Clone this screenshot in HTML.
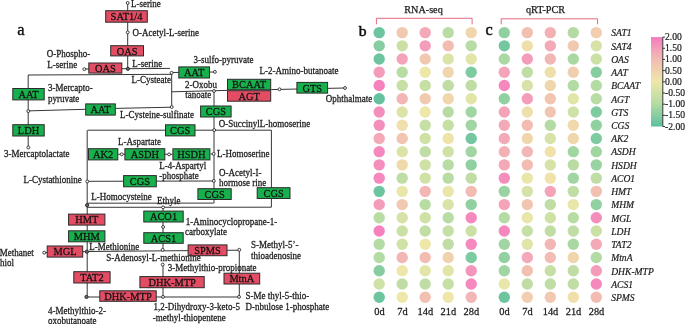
<!DOCTYPE html>
<html><head><meta charset="utf-8"><title>Sulfur amino acid metabolism</title>
<style>
html,body{margin:0;padding:0;background:#fff;}
body{width:685px;height:324px;overflow:hidden;}
svg{display:block;}
text{font-family:"Liberation Serif","Times New Roman",serif;}
</style></head>
<body>
<svg width="685" height="324" viewBox="0 0 685 324">
<rect width="685" height="324" fill="#ffffff"/>
<defs>
<linearGradient id="cb" x1="0" y1="0" x2="0" y2="1">
<stop offset="0.0%" stop-color="#f57abe"/>
<stop offset="12.5%" stop-color="#f49dba"/>
<stop offset="25.0%" stop-color="#f2bcb2"/>
<stop offset="37.5%" stop-color="#f1d2ae"/>
<stop offset="50.0%" stop-color="#eee7a9"/>
<stop offset="75.0%" stop-color="#b3dba3"/>
<stop offset="100.0%" stop-color="#5bbf9f"/>
</linearGradient>
</defs>
<!-- panel a: pathway -->
<g stroke="#2b2b2b" stroke-width="0.95" fill="none">
<line x1="127.7" y1="3" x2="127.7" y2="68.8"/>
<line x1="84.3" y1="69.0" x2="170.0" y2="68.4"/>
<line x1="28.1" y1="75.0" x2="171.6" y2="74.3"/>
<line x1="28.2" y1="75.0" x2="28.2" y2="147.5"/>
<line x1="28.3" y1="110.9" x2="85.2" y2="109.3"/>
<line x1="115.8" y1="108.4" x2="171.7" y2="107.2"/>
<line x1="171.7" y1="72.7" x2="171.7" y2="107.2"/>
<line x1="171.7" y1="72.5" x2="214.9" y2="72.0"/>
<line x1="171.7" y1="91.8" x2="227.0" y2="90.4"/>
<line x1="271.2" y1="89.6" x2="345.0" y2="88.0"/>
<line x1="214.0" y1="91.0" x2="214.0" y2="203.1"/>
<line x1="87.6" y1="130.2" x2="271.4" y2="130.2"/>
<line x1="271.4" y1="130.2" x2="271.4" y2="207.2"/>
<line x1="87.2" y1="130.2" x2="87.2" y2="297.0"/>
<line x1="118.3" y1="154.3" x2="172.4" y2="154.3"/>
<line x1="210.4" y1="154.0" x2="214.0" y2="154.0"/>
<line x1="87.3" y1="181.3" x2="213.8" y2="181.0"/>
<line x1="87.0" y1="203.2" x2="213.8" y2="203.1"/>
<line x1="87.0" y1="207.3" x2="271.4" y2="207.2"/>
<line x1="163.0" y1="207.3" x2="163.0" y2="249.8"/>
<line x1="86.9" y1="251.5" x2="239.3" y2="250.2"/>
<line x1="239.3" y1="249.8" x2="239.3" y2="297.0"/>
<line x1="163.0" y1="264.6" x2="163.0" y2="297.0"/>
<line x1="86.5" y1="297.0" x2="239.0" y2="297.0"/>
<line x1="44.2" y1="252.6" x2="86.9" y2="251.6"/>
</g>
<g stroke="#2b2b2b" stroke-width="1">
<rect x="105.7" y="10.7" width="41.6" height="11.5" fill="#e24d64"/>
<rect x="110.7" y="45.7" width="32.8" height="10.2" fill="#e24d64"/>
<rect x="88.8" y="63.0" width="33.0" height="10.1" fill="#e24d64"/>
<rect x="178.8" y="66.9" width="30.7" height="11.1" fill="#17b04c"/>
<rect x="227.5" y="79.3" width="43.2" height="10.4" fill="#17b04c"/>
<rect x="227.5" y="90.7" width="43.2" height="10.5" fill="#e24d64"/>
<rect x="296.9" y="82.4" width="30.7" height="10.7" fill="#17b04c"/>
<rect x="12.8" y="88.5" width="31.4" height="11.4" fill="#17b04c"/>
<rect x="85.7" y="103.9" width="29.6" height="11.2" fill="#17b04c"/>
<rect x="200.6" y="106.0" width="30.5" height="11.0" fill="#17b04c"/>
<rect x="12.8" y="124.7" width="31.4" height="11.3" fill="#17b04c"/>
<rect x="165.5" y="124.8" width="29.5" height="11.1" fill="#17b04c"/>
<rect x="88.5" y="148.7" width="29.3" height="11.2" fill="#17b04c"/>
<rect x="124.9" y="148.7" width="39.9" height="11.2" fill="#17b04c"/>
<rect x="172.9" y="148.8" width="37.0" height="11.1" fill="#17b04c"/>
<rect x="123.6" y="175.6" width="32.7" height="11.2" fill="#17b04c"/>
<rect x="197.9" y="188.7" width="33.3" height="10.8" fill="#17b04c"/>
<rect x="257.2" y="187.7" width="32.8" height="10.8" fill="#17b04c"/>
<rect x="143.8" y="211.1" width="39.4" height="10.9" fill="#17b04c"/>
<rect x="68.6" y="214.1" width="36.3" height="11.0" fill="#e24d64"/>
<rect x="68.6" y="230.8" width="36.3" height="11.0" fill="#17b04c"/>
<rect x="143.8" y="232.7" width="39.4" height="10.6" fill="#17b04c"/>
<rect x="188.1" y="244.9" width="38.9" height="10.8" fill="#e24d64"/>
<rect x="47.2" y="246.0" width="35.5" height="11.1" fill="#e24d64"/>
<rect x="73.8" y="271.7" width="36.3" height="11.3" fill="#e24d64"/>
<rect x="224.0" y="273.2" width="35.7" height="10.8" fill="#e24d64"/>
<rect x="139.9" y="276.6" width="64.3" height="11.1" fill="#e24d64"/>
<rect x="99.8" y="290.8" width="56.4" height="10.5" fill="#e24d64"/>
</g>
<g fill="#ffffff" stroke="#2b2b2b" stroke-width="0.9">
<circle cx="127.7" cy="3.0" r="1.45"/>
<circle cx="127.7" cy="32.4" r="1.45"/>
<circle cx="84.3" cy="69.2" r="1.45"/>
<circle cx="171.6" cy="72.8" r="1.45"/>
<circle cx="214.9" cy="71.9" r="1.45"/>
<circle cx="214.0" cy="91.0" r="1.45"/>
<circle cx="279.5" cy="89.3" r="1.45"/>
<circle cx="345.0" cy="88.0" r="1.45"/>
<circle cx="28.3" cy="111.1" r="1.45"/>
<circle cx="28.3" cy="147.5" r="1.45"/>
<circle cx="171.7" cy="107.0" r="1.45"/>
<circle cx="214.2" cy="130.1" r="1.45"/>
<circle cx="121.7" cy="154.3" r="1.45"/>
<circle cx="169.1" cy="154.4" r="1.45"/>
<circle cx="213.7" cy="153.8" r="1.45"/>
<circle cx="87.3" cy="181.5" r="1.45"/>
<circle cx="213.8" cy="180.9" r="1.45"/>
<circle cx="163.1" cy="207.3" r="1.45"/>
<circle cx="163.1" cy="227.0" r="1.45"/>
<circle cx="162.7" cy="249.8" r="1.45"/>
<circle cx="239.3" cy="249.8" r="1.45"/>
<circle cx="162.7" cy="264.6" r="1.45"/>
<circle cx="44.2" cy="252.7" r="1.45"/>
<circle cx="163.0" cy="296.9" r="1.45"/>
<circle cx="239.0" cy="296.9" r="1.45"/>
</g>
<g fill="#6a6a6a" stroke="#2b2b2b" stroke-width="1">
<circle cx="127.9" cy="68.8" r="1.6"/>
<circle cx="87.1" cy="205.2" r="1.6"/>
<circle cx="86.9" cy="251.7" r="1.6"/>
<circle cx="86.5" cy="296.9" r="1.6"/>
</g>
<g font-size="10.4" fill="#111" stroke="#111" stroke-width="0.25" text-anchor="middle">
<text transform="translate(126.5 20.1) scale(1 1.05)">SAT1/4</text>
<text transform="translate(127.1 54.5) scale(1 1.05)">OAS</text>
<text transform="translate(105.3 71.8) scale(1 1.05)">OAS</text>
<text transform="translate(194.2 76.2) scale(1 1.05)">AAT</text>
<text transform="translate(249.1 88.2) scale(1 1.05)">BCAAT</text>
<text transform="translate(249.1 99.7) scale(1 1.05)">AGT</text>
<text transform="translate(312.2 91.5) scale(1 1.05)">GTS</text>
<text transform="translate(28.5 97.9) scale(1 1.05)">AAT</text>
<text transform="translate(100.5 113.2) scale(1 1.05)">AAT</text>
<text transform="translate(215.8 115.2) scale(1 1.05)">CGS</text>
<text transform="translate(28.5 134.0) scale(1 1.05)">LDH</text>
<text transform="translate(180.2 134.0) scale(1 1.05)">CGS</text>
<text transform="translate(103.2 158.0) scale(1 1.05)">AK2</text>
<text transform="translate(144.9 158.0) scale(1 1.05)">ASDH</text>
<text transform="translate(191.4 158.1) scale(1 1.05)">HSDH</text>
<text transform="translate(139.9 184.9) scale(1 1.05)">CGS</text>
<text transform="translate(214.6 197.8) scale(1 1.05)">CGS</text>
<text transform="translate(273.6 196.8) scale(1 1.05)">CGS</text>
<text transform="translate(163.5 220.2) scale(1 1.05)">ACO1</text>
<text transform="translate(86.8 223.3) scale(1 1.05)">HMT</text>
<text transform="translate(86.8 240.0) scale(1 1.05)">MHM</text>
<text transform="translate(163.5 241.7) scale(1 1.05)">ACS1</text>
<text transform="translate(207.6 254.0) scale(1 1.05)">SPMS</text>
<text transform="translate(65.0 255.2) scale(1 1.05)">MGL</text>
<text transform="translate(91.9 281.1) scale(1 1.05)">TAT2</text>
<text transform="translate(241.8 282.3) scale(1 1.05)">MtnA</text>
<text transform="translate(172.1 285.8) scale(1 1.05)">DHK-MTP</text>
<text transform="translate(128.0 299.8) scale(1 1.05)">DHK-MTP</text>
</g>
<g font-size="9" fill="#1c1c1c" stroke="#1c1c1c" stroke-width="0.25">
<text transform="translate(130.9 7.10) scale(1 1.08)">L-serine</text>
<text transform="translate(132.5 35.60) scale(1 1.08)">O-Acetyl-L-serine</text>
<text transform="translate(46.8 56.70) scale(1 1.08)">O-Phospho-</text>
<text transform="translate(47.3 67.50) scale(1 1.08)">L-serine</text>
<text transform="translate(132.2 66.80) scale(1 1.08)">L-serine</text>
<text transform="translate(131.5 83.30) scale(1 1.08)">L-Cysteate</text>
<text transform="translate(193.5 63.10) scale(1 1.08)">3-sulfo-pyruvate</text>
<text transform="translate(185.0 87.80) scale(1 1.08)">2-Oxobu</text>
<text transform="translate(185.2 98.10) scale(1 1.08)">tanoate</text>
<text transform="translate(259.5 74.10) scale(1 1.08)">L-2-Amino-butanoate</text>
<text transform="translate(325.7 102.20) scale(1 1.08)">Ophthalmate</text>
<text transform="translate(47.9 91.40) scale(1 1.08)">3-Mercapto-</text>
<text transform="translate(47.9 101.50) scale(1 1.08)">pyruvate</text>
<text transform="translate(120.1 117.50) scale(1 1.08)">L-Cysteine-sulfinate</text>
<text transform="translate(4.1 156.90) scale(1 1.08)">3-Mercaptolactate</text>
<text transform="translate(218.8 127.00) scale(1 1.08)">O-SuccinylL-homoserine</text>
<text transform="translate(118.0 145.00) scale(1 1.08)">L-Aspartate</text>
<text transform="translate(217.0 157.40) scale(1 1.08)">L-Homoserine</text>
<text transform="translate(159.3 168.50) scale(1 1.08)">L-4-Aspartyl</text>
<text transform="translate(159.3 179.00) scale(1 1.08)">-phosphate</text>
<text transform="translate(219.1 175.50) scale(1 1.08)">O-Acetyl-I-</text>
<text transform="translate(219.1 186.20) scale(1 1.08)">hormose rine</text>
<text transform="translate(23.4 182.90) scale(1 1.08)">L-Cystathionine</text>
<text transform="translate(91.3 200.20) scale(1 1.08)">L-Homocysteine</text>
<text transform="translate(157.0 203.50) scale(1 1.08)">Ethyle</text>
<text transform="translate(185.8 224.80) scale(1 1.08)">1-Aminocyclopropane-1-</text>
<text transform="translate(185.0 235.40) scale(1 1.08)">carboxylate</text>
<text transform="translate(-0.2 255.60) scale(1 1.08)">Methanet</text>
<text transform="translate(0.0 266.40) scale(1 1.08)">hiol</text>
<text transform="translate(89.3 250.10) scale(1 1.08)">L-Methionine</text>
<text transform="translate(106.3 260.80) scale(1 1.08)">S-Adenosyl-L-methionine</text>
<text transform="translate(251.0 247.90) scale(1 1.08)">S-Methyl-5’-</text>
<text transform="translate(251.0 259.00) scale(1 1.08)">thioadenosine</text>
<text transform="translate(167.7 270.90) scale(1 1.08)">3-Methylthio-propionate</text>
<text transform="translate(245.6 298.90) scale(1 1.08)">S-Me thyl-5-thio-</text>
<text transform="translate(245.6 309.80) scale(1 1.08)">D-nbulose 1-phosphate</text>
<text transform="translate(48.0 313.90) scale(1 1.08)">4-Methylthio-2-</text>
<text transform="translate(48.0 323.50) scale(1 1.08)">oxobutanoate</text>
<text transform="translate(153.4 310.20) scale(1 1.08)">1,2-Dihydroxy-3-keto-5</text>
<text transform="translate(152.8 321.20) scale(1 1.08)">-methyl-thiopentene</text>
</g>
<text x="17.2" y="35.2" font-size="16.6" fill="#111" stroke="#111" stroke-width="0.35">a</text>
<!-- panels b and c: heatmaps -->
<text x="358.7" y="35.5" font-size="15.6" fill="#111" stroke="#111" stroke-width="0.55">b</text>
<text x="485.5" y="35.0" font-size="16.2" fill="#111" stroke="#111" stroke-width="0.5">c</text>
<g font-size="10.2" fill="#1c1c1c" stroke="#1c1c1c" stroke-width="0.25" text-anchor="middle">
<text x="423.5" y="13.2">RNA-seq</text>
<text x="545.5" y="13.3">qRT-PCR</text>
</g>
<g stroke="#e3697c" stroke-width="1" fill="none">
<polyline points="376.4,24.3 376.4,18.3 472.1,18.3 472.1,24.3"/>
<polyline points="501.2,24.3 501.2,18.8 597.6,18.8 597.6,24.3"/>
</g>
<g>
<circle cx="379.2" cy="32.60" r="5.7" fill="#6dc5a0"/>
<circle cx="504.3" cy="32.60" r="5.7" fill="#90d0a1"/>
<circle cx="402.2" cy="32.60" r="5.7" fill="#f1c9b0"/>
<circle cx="527.3" cy="32.60" r="5.7" fill="#f2c0b1"/>
<circle cx="425.2" cy="32.60" r="5.7" fill="#f3a9b7"/>
<circle cx="550.3" cy="32.60" r="5.7" fill="#f3b0b5"/>
<circle cx="448.2" cy="32.60" r="5.7" fill="#b9dca4"/>
<circle cx="573.3" cy="32.60" r="5.7" fill="#b3dba3"/>
<circle cx="471.2" cy="32.60" r="5.7" fill="#f0d6ad"/>
<circle cx="596.3" cy="32.60" r="5.7" fill="#f1ceaf"/>
<circle cx="379.2" cy="45.83" r="5.7" fill="#87cda1"/>
<circle cx="504.3" cy="45.83" r="5.7" fill="#75c7a0"/>
<circle cx="402.2" cy="45.83" r="5.7" fill="#cbe0a5"/>
<circle cx="527.3" cy="45.83" r="5.7" fill="#efdfab"/>
<circle cx="425.2" cy="45.83" r="5.7" fill="#f49dba"/>
<circle cx="550.3" cy="45.83" r="5.7" fill="#f3a9b7"/>
<circle cx="448.2" cy="45.83" r="5.7" fill="#f2bcb2"/>
<circle cx="573.3" cy="45.83" r="5.7" fill="#f1c9b0"/>
<circle cx="471.2" cy="45.83" r="5.7" fill="#b9dca4"/>
<circle cx="596.3" cy="45.83" r="5.7" fill="#d6e2a7"/>
<circle cx="379.2" cy="59.06" r="5.7" fill="#6dc5a0"/>
<circle cx="504.3" cy="59.06" r="5.7" fill="#aad8a3"/>
<circle cx="402.2" cy="59.06" r="5.7" fill="#f4a3b8"/>
<circle cx="527.3" cy="59.06" r="5.7" fill="#f49dba"/>
<circle cx="425.2" cy="59.06" r="5.7" fill="#f1c9b0"/>
<circle cx="550.3" cy="59.06" r="5.7" fill="#f2b6b4"/>
<circle cx="448.2" cy="59.06" r="5.7" fill="#dce3a7"/>
<circle cx="573.3" cy="59.06" r="5.7" fill="#aad8a3"/>
<circle cx="471.2" cy="59.06" r="5.7" fill="#e2e5a8"/>
<circle cx="596.3" cy="59.06" r="5.7" fill="#cbe0a5"/>
<circle cx="379.2" cy="72.29" r="5.7" fill="#f49dba"/>
<circle cx="504.3" cy="72.29" r="5.7" fill="#f4a3b8"/>
<circle cx="402.2" cy="72.29" r="5.7" fill="#b9dca4"/>
<circle cx="527.3" cy="72.29" r="5.7" fill="#bfdda4"/>
<circle cx="425.2" cy="72.29" r="5.7" fill="#eee7a9"/>
<circle cx="550.3" cy="72.29" r="5.7" fill="#efdfab"/>
<circle cx="448.2" cy="72.29" r="5.7" fill="#f0d6ad"/>
<circle cx="573.3" cy="72.29" r="5.7" fill="#f1ceaf"/>
<circle cx="471.2" cy="72.29" r="5.7" fill="#7ecaa1"/>
<circle cx="596.3" cy="72.29" r="5.7" fill="#87cda1"/>
<circle cx="379.2" cy="85.52" r="5.7" fill="#f581bd"/>
<circle cx="504.3" cy="85.52" r="5.7" fill="#f588bc"/>
<circle cx="402.2" cy="85.52" r="5.7" fill="#c5dfa5"/>
<circle cx="527.3" cy="85.52" r="5.7" fill="#d6e2a7"/>
<circle cx="425.2" cy="85.52" r="5.7" fill="#c5dfa5"/>
<circle cx="550.3" cy="85.52" r="5.7" fill="#f0d6ad"/>
<circle cx="448.2" cy="85.52" r="5.7" fill="#bfdda4"/>
<circle cx="573.3" cy="85.52" r="5.7" fill="#b3dba3"/>
<circle cx="471.2" cy="85.52" r="5.7" fill="#bfdda4"/>
<circle cx="596.3" cy="85.52" r="5.7" fill="#b3dba3"/>
<circle cx="379.2" cy="98.75" r="5.7" fill="#64c29f"/>
<circle cx="504.3" cy="98.75" r="5.7" fill="#90d0a1"/>
<circle cx="402.2" cy="98.75" r="5.7" fill="#f2b6b4"/>
<circle cx="527.3" cy="98.75" r="5.7" fill="#f49dba"/>
<circle cx="425.2" cy="98.75" r="5.7" fill="#f1c9b0"/>
<circle cx="550.3" cy="98.75" r="5.7" fill="#f2c5b0"/>
<circle cx="448.2" cy="98.75" r="5.7" fill="#f0d6ad"/>
<circle cx="573.3" cy="98.75" r="5.7" fill="#e2e5a8"/>
<circle cx="471.2" cy="98.75" r="5.7" fill="#e2e5a8"/>
<circle cx="596.3" cy="98.75" r="5.7" fill="#b9dca4"/>
<circle cx="379.2" cy="111.98" r="5.7" fill="#f48fbc"/>
<circle cx="504.3" cy="111.98" r="5.7" fill="#f4a3b8"/>
<circle cx="402.2" cy="111.98" r="5.7" fill="#dce3a7"/>
<circle cx="527.3" cy="111.98" r="5.7" fill="#efdfab"/>
<circle cx="425.2" cy="111.98" r="5.7" fill="#eee7a9"/>
<circle cx="550.3" cy="111.98" r="5.7" fill="#f2c5b0"/>
<circle cx="448.2" cy="111.98" r="5.7" fill="#b9dca4"/>
<circle cx="573.3" cy="111.98" r="5.7" fill="#d0e1a6"/>
<circle cx="471.2" cy="111.98" r="5.7" fill="#a1d5a2"/>
<circle cx="596.3" cy="111.98" r="5.7" fill="#7ecaa1"/>
<circle cx="379.2" cy="125.21" r="5.7" fill="#f48fbc"/>
<circle cx="504.3" cy="125.21" r="5.7" fill="#f3a9b7"/>
<circle cx="402.2" cy="125.21" r="5.7" fill="#efdfab"/>
<circle cx="527.3" cy="125.21" r="5.7" fill="#f2bcb2"/>
<circle cx="425.2" cy="125.21" r="5.7" fill="#c5dfa5"/>
<circle cx="550.3" cy="125.21" r="5.7" fill="#b3dba3"/>
<circle cx="448.2" cy="125.21" r="5.7" fill="#c5dfa5"/>
<circle cx="573.3" cy="125.21" r="5.7" fill="#f0daac"/>
<circle cx="471.2" cy="125.21" r="5.7" fill="#a1d5a2"/>
<circle cx="596.3" cy="125.21" r="5.7" fill="#90d0a1"/>
<circle cx="379.2" cy="138.44" r="5.7" fill="#f3a9b7"/>
<circle cx="504.3" cy="138.44" r="5.7" fill="#f3a9b7"/>
<circle cx="402.2" cy="138.44" r="5.7" fill="#f2c5b0"/>
<circle cx="527.3" cy="138.44" r="5.7" fill="#f0d6ad"/>
<circle cx="425.2" cy="138.44" r="5.7" fill="#d0e1a6"/>
<circle cx="550.3" cy="138.44" r="5.7" fill="#d6e2a7"/>
<circle cx="448.2" cy="138.44" r="5.7" fill="#efe3aa"/>
<circle cx="573.3" cy="138.44" r="5.7" fill="#f0d6ad"/>
<circle cx="471.2" cy="138.44" r="5.7" fill="#75c7a0"/>
<circle cx="596.3" cy="138.44" r="5.7" fill="#7ecaa1"/>
<circle cx="379.2" cy="151.67" r="5.7" fill="#f588bc"/>
<circle cx="504.3" cy="151.67" r="5.7" fill="#f3b0b5"/>
<circle cx="402.2" cy="151.67" r="5.7" fill="#dce3a7"/>
<circle cx="527.3" cy="151.67" r="5.7" fill="#f2b6b4"/>
<circle cx="425.2" cy="151.67" r="5.7" fill="#bfdda4"/>
<circle cx="550.3" cy="151.67" r="5.7" fill="#efe3aa"/>
<circle cx="448.2" cy="151.67" r="5.7" fill="#d0e1a6"/>
<circle cx="573.3" cy="151.67" r="5.7" fill="#a1d5a2"/>
<circle cx="471.2" cy="151.67" r="5.7" fill="#a1d5a2"/>
<circle cx="596.3" cy="151.67" r="5.7" fill="#a1d5a2"/>
<circle cx="379.2" cy="164.90" r="5.7" fill="#f48fbc"/>
<circle cx="504.3" cy="164.90" r="5.7" fill="#f3a9b7"/>
<circle cx="402.2" cy="164.90" r="5.7" fill="#f0daac"/>
<circle cx="527.3" cy="164.90" r="5.7" fill="#f2bcb2"/>
<circle cx="425.2" cy="164.90" r="5.7" fill="#d0e1a6"/>
<circle cx="550.3" cy="164.90" r="5.7" fill="#d6e2a7"/>
<circle cx="448.2" cy="164.90" r="5.7" fill="#b9dca4"/>
<circle cx="573.3" cy="164.90" r="5.7" fill="#b9dca4"/>
<circle cx="471.2" cy="164.90" r="5.7" fill="#90d0a1"/>
<circle cx="596.3" cy="164.90" r="5.7" fill="#99d3a2"/>
<circle cx="379.2" cy="178.13" r="5.7" fill="#f588bc"/>
<circle cx="504.3" cy="178.13" r="5.7" fill="#f48fbc"/>
<circle cx="402.2" cy="178.13" r="5.7" fill="#bfdda4"/>
<circle cx="527.3" cy="178.13" r="5.7" fill="#e8e6a8"/>
<circle cx="425.2" cy="178.13" r="5.7" fill="#d0e1a6"/>
<circle cx="550.3" cy="178.13" r="5.7" fill="#efe3aa"/>
<circle cx="448.2" cy="178.13" r="5.7" fill="#b9dca4"/>
<circle cx="573.3" cy="178.13" r="5.7" fill="#a1d5a2"/>
<circle cx="471.2" cy="178.13" r="5.7" fill="#bfdda4"/>
<circle cx="596.3" cy="178.13" r="5.7" fill="#bfdda4"/>
<circle cx="379.2" cy="191.36" r="5.7" fill="#6dc5a0"/>
<circle cx="504.3" cy="191.36" r="5.7" fill="#99d3a2"/>
<circle cx="402.2" cy="191.36" r="5.7" fill="#e8e6a8"/>
<circle cx="527.3" cy="191.36" r="5.7" fill="#d6e2a7"/>
<circle cx="425.2" cy="191.36" r="5.7" fill="#f2b6b4"/>
<circle cx="550.3" cy="191.36" r="5.7" fill="#f4a3b8"/>
<circle cx="448.2" cy="191.36" r="5.7" fill="#e8e6a8"/>
<circle cx="573.3" cy="191.36" r="5.7" fill="#bfdda4"/>
<circle cx="471.2" cy="191.36" r="5.7" fill="#f2bcb2"/>
<circle cx="596.3" cy="191.36" r="5.7" fill="#f2c0b1"/>
<circle cx="379.2" cy="204.59" r="5.7" fill="#f49dba"/>
<circle cx="504.3" cy="204.59" r="5.7" fill="#f4a3b8"/>
<circle cx="402.2" cy="204.59" r="5.7" fill="#f1c9b0"/>
<circle cx="527.3" cy="204.59" r="5.7" fill="#f2c5b0"/>
<circle cx="425.2" cy="204.59" r="5.7" fill="#b9dca4"/>
<circle cx="550.3" cy="204.59" r="5.7" fill="#bfdda4"/>
<circle cx="448.2" cy="204.59" r="5.7" fill="#dce3a7"/>
<circle cx="573.3" cy="204.59" r="5.7" fill="#e8e6a8"/>
<circle cx="471.2" cy="204.59" r="5.7" fill="#90d0a1"/>
<circle cx="596.3" cy="204.59" r="5.7" fill="#90d0a1"/>
<circle cx="379.2" cy="217.82" r="5.7" fill="#b9dca4"/>
<circle cx="504.3" cy="217.82" r="5.7" fill="#b3dba3"/>
<circle cx="402.2" cy="217.82" r="5.7" fill="#d6e2a7"/>
<circle cx="527.3" cy="217.82" r="5.7" fill="#e8e6a8"/>
<circle cx="425.2" cy="217.82" r="5.7" fill="#d0e1a6"/>
<circle cx="550.3" cy="217.82" r="5.7" fill="#d0e1a6"/>
<circle cx="448.2" cy="217.82" r="5.7" fill="#b9dca4"/>
<circle cx="573.3" cy="217.82" r="5.7" fill="#b9dca4"/>
<circle cx="471.2" cy="217.82" r="5.7" fill="#f588bc"/>
<circle cx="596.3" cy="217.82" r="5.7" fill="#f48fbc"/>
<circle cx="379.2" cy="231.05" r="5.7" fill="#f581bd"/>
<circle cx="504.3" cy="231.05" r="5.7" fill="#f588bc"/>
<circle cx="402.2" cy="231.05" r="5.7" fill="#cbe0a5"/>
<circle cx="527.3" cy="231.05" r="5.7" fill="#c5dfa5"/>
<circle cx="425.2" cy="231.05" r="5.7" fill="#bfdda4"/>
<circle cx="550.3" cy="231.05" r="5.7" fill="#bfdda4"/>
<circle cx="448.2" cy="231.05" r="5.7" fill="#c5dfa5"/>
<circle cx="573.3" cy="231.05" r="5.7" fill="#bfdda4"/>
<circle cx="471.2" cy="231.05" r="5.7" fill="#cbe0a5"/>
<circle cx="596.3" cy="231.05" r="5.7" fill="#cbe0a5"/>
<circle cx="379.2" cy="244.28" r="5.7" fill="#b3dba3"/>
<circle cx="504.3" cy="244.28" r="5.7" fill="#a1d5a2"/>
<circle cx="402.2" cy="244.28" r="5.7" fill="#d0e1a6"/>
<circle cx="527.3" cy="244.28" r="5.7" fill="#e2e5a8"/>
<circle cx="425.2" cy="244.28" r="5.7" fill="#eee7a9"/>
<circle cx="550.3" cy="244.28" r="5.7" fill="#f2b6b4"/>
<circle cx="448.2" cy="244.28" r="5.7" fill="#bfdda4"/>
<circle cx="573.3" cy="244.28" r="5.7" fill="#aad8a3"/>
<circle cx="471.2" cy="244.28" r="5.7" fill="#f588bc"/>
<circle cx="596.3" cy="244.28" r="5.7" fill="#f3a9b7"/>
<circle cx="379.2" cy="257.51" r="5.7" fill="#b3dba3"/>
<circle cx="504.3" cy="257.51" r="5.7" fill="#90d0a1"/>
<circle cx="402.2" cy="257.51" r="5.7" fill="#f2b6b4"/>
<circle cx="527.3" cy="257.51" r="5.7" fill="#f3a9b7"/>
<circle cx="425.2" cy="257.51" r="5.7" fill="#f2bcb2"/>
<circle cx="550.3" cy="257.51" r="5.7" fill="#f2bcb2"/>
<circle cx="448.2" cy="257.51" r="5.7" fill="#f1d2ae"/>
<circle cx="573.3" cy="257.51" r="5.7" fill="#f0d6ad"/>
<circle cx="471.2" cy="257.51" r="5.7" fill="#7ecaa1"/>
<circle cx="596.3" cy="257.51" r="5.7" fill="#b3dba3"/>
<circle cx="379.2" cy="270.74" r="5.7" fill="#87cda1"/>
<circle cx="504.3" cy="270.74" r="5.7" fill="#a1d5a2"/>
<circle cx="402.2" cy="270.74" r="5.7" fill="#eee7a9"/>
<circle cx="527.3" cy="270.74" r="5.7" fill="#f2c0b1"/>
<circle cx="425.2" cy="270.74" r="5.7" fill="#e2e5a8"/>
<circle cx="550.3" cy="270.74" r="5.7" fill="#c5dfa5"/>
<circle cx="448.2" cy="270.74" r="5.7" fill="#e2e5a8"/>
<circle cx="573.3" cy="270.74" r="5.7" fill="#bfdda4"/>
<circle cx="471.2" cy="270.74" r="5.7" fill="#f496bb"/>
<circle cx="596.3" cy="270.74" r="5.7" fill="#f49dba"/>
<circle cx="379.2" cy="283.97" r="5.7" fill="#d0e1a6"/>
<circle cx="504.3" cy="283.97" r="5.7" fill="#e8e6a8"/>
<circle cx="402.2" cy="283.97" r="5.7" fill="#bfdda4"/>
<circle cx="527.3" cy="283.97" r="5.7" fill="#bfdda4"/>
<circle cx="425.2" cy="283.97" r="5.7" fill="#bfdda4"/>
<circle cx="550.3" cy="283.97" r="5.7" fill="#bfdda4"/>
<circle cx="448.2" cy="283.97" r="5.7" fill="#c5dfa5"/>
<circle cx="573.3" cy="283.97" r="5.7" fill="#bfdda4"/>
<circle cx="471.2" cy="283.97" r="5.7" fill="#f588bc"/>
<circle cx="596.3" cy="283.97" r="5.7" fill="#f588bc"/>
<circle cx="379.2" cy="297.20" r="5.7" fill="#6dc5a0"/>
<circle cx="504.3" cy="297.20" r="5.7" fill="#6dc5a0"/>
<circle cx="402.2" cy="297.20" r="5.7" fill="#eee7a9"/>
<circle cx="527.3" cy="297.20" r="5.7" fill="#f1ceaf"/>
<circle cx="425.2" cy="297.20" r="5.7" fill="#f2c0b1"/>
<circle cx="550.3" cy="297.20" r="5.7" fill="#f1c9b0"/>
<circle cx="448.2" cy="297.20" r="5.7" fill="#eee7a9"/>
<circle cx="573.3" cy="297.20" r="5.7" fill="#efdfab"/>
<circle cx="471.2" cy="297.20" r="5.7" fill="#f2b6b4"/>
<circle cx="596.3" cy="297.20" r="5.7" fill="#f2bcb2"/>
</g>
<g font-size="9.6" font-style="italic" fill="#1c1c1c" stroke="#1c1c1c" stroke-width="0.2">
<text transform="translate(611.2 36.40) scale(1 1.06)">SAT1</text>
<text transform="translate(611.2 49.63) scale(1 1.06)">SAT4</text>
<text transform="translate(611.2 62.86) scale(1 1.06)">OAS</text>
<text transform="translate(611.2 76.09) scale(1 1.06)">AAT</text>
<text transform="translate(611.2 89.32) scale(1 1.06)">BCAAT</text>
<text transform="translate(611.2 102.55) scale(1 1.06)">AGT</text>
<text transform="translate(611.2 115.78) scale(1 1.06)">GTS</text>
<text transform="translate(611.2 129.01) scale(1 1.06)">CGS</text>
<text transform="translate(611.2 142.24) scale(1 1.06)">AK2</text>
<text transform="translate(611.2 155.47) scale(1 1.06)">ASDH</text>
<text transform="translate(611.2 168.70) scale(1 1.06)">HSDH</text>
<text transform="translate(611.2 181.93) scale(1 1.06)">ACO1</text>
<text transform="translate(611.2 195.16) scale(1 1.06)">HMT</text>
<text transform="translate(611.2 208.39) scale(1 1.06)">MHM</text>
<text transform="translate(611.2 221.62) scale(1 1.06)">MGL</text>
<text transform="translate(611.2 234.85) scale(1 1.06)">LDH</text>
<text transform="translate(611.2 248.08) scale(1 1.06)">TAT2</text>
<text transform="translate(611.2 261.31) scale(1 1.06)">MtnA</text>
<text transform="translate(611.2 274.54) scale(1 1.06)">DHK-MTP</text>
<text transform="translate(611.2 287.77) scale(1 1.06)">ACS1</text>
<text transform="translate(611.2 301.00) scale(1 1.06)">SPMS</text>
</g>
<g font-size="10.4" fill="#1c1c1c" stroke="#1c1c1c" stroke-width="0.25" text-anchor="middle">
<text transform="translate(379.4 315.0) scale(1 1.05)">0d</text>
<text transform="translate(504.5 315.0) scale(1 1.05)">0d</text>
<text transform="translate(402.4 315.0) scale(1 1.05)">7d</text>
<text transform="translate(527.5 315.0) scale(1 1.05)">7d</text>
<text transform="translate(425.4 315.0) scale(1 1.05)">14d</text>
<text transform="translate(550.5 315.0) scale(1 1.05)">14d</text>
<text transform="translate(448.4 315.0) scale(1 1.05)">21d</text>
<text transform="translate(573.5 315.0) scale(1 1.05)">21d</text>
<text transform="translate(471.4 315.0) scale(1 1.05)">28d</text>
<text transform="translate(596.5 315.0) scale(1 1.05)">28d</text>
</g>
<rect x="651" y="37.1" width="11.6" height="89.4" fill="url(#cb)"/>
<g stroke="#222" stroke-width="0.9">
<line x1="662.8" y1="37.1" x2="662.8" y2="126.5"/>
<line x1="662.8" y1="37.10" x2="665.0" y2="37.10"/>
<line x1="662.8" y1="48.28" x2="665.0" y2="48.28"/>
<line x1="662.8" y1="59.45" x2="665.0" y2="59.45"/>
<line x1="662.8" y1="70.62" x2="665.0" y2="70.62"/>
<line x1="662.8" y1="81.80" x2="665.0" y2="81.80"/>
<line x1="662.8" y1="92.97" x2="665.0" y2="92.97"/>
<line x1="662.8" y1="104.15" x2="665.0" y2="104.15"/>
<line x1="662.8" y1="115.33" x2="665.0" y2="115.33"/>
<line x1="662.8" y1="126.50" x2="665.0" y2="126.50"/>
</g>
<g font-size="9.6" fill="#1c1c1c" stroke="#1c1c1c" stroke-width="0.2">
<text x="665.0" y="40.10">2.00</text>
<text x="665.0" y="51.28">1.50</text>
<text x="665.0" y="62.45">1.00</text>
<text x="665.0" y="73.62">0.50</text>
<text x="665.0" y="84.80">0.00</text>
<text x="665.0" y="95.97">-0.50</text>
<text x="665.0" y="107.15">-1.00</text>
<text x="665.0" y="118.33">-1.50</text>
<text x="665.0" y="129.50">-2.00</text>
</g>
</svg>
</body></html>
